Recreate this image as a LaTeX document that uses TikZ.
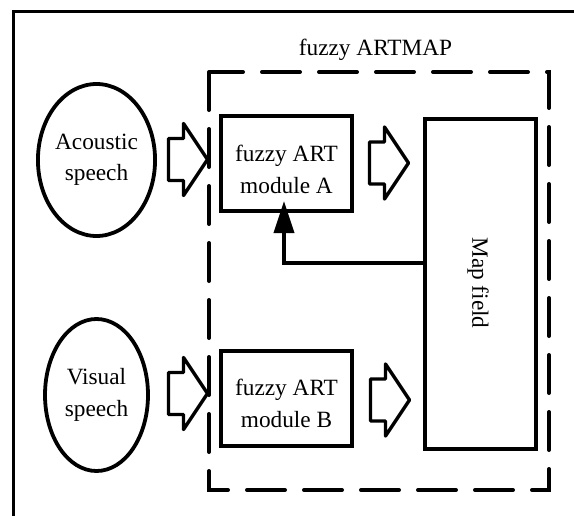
\documentclass[tikz,border=0pt]{standalone}
\usepackage{fontspec}
\setmainfont{Liberation Serif}
\usetikzlibrary{shapes.geometric,arrows.meta}
\tikzset{
  lbl/.style={font=\fontsize{23.3}{31.5}\selectfont, inner sep=0pt, align=center},
  ellbox/.style={draw, line width=3.8pt, ellipse, minimum width=103pt, minimum height=152pt, inner sep=0pt, lbl},
  modbox/.style={draw, line width=4pt, rectangle, minimum width=131pt, minimum height=95pt, inner sep=0pt},
  arrline/.style={draw, line width=3.4pt, line join=round},
  blockarr/.pic={\path[arrline] (0,-21) -- (15,-21) -- (15,-36) -- (39,0) -- (15,36) -- (15,21) -- (0,21) -- cycle;},
  fbline/.style={line width=3.8pt, -{Triangle[width=20pt,length=32pt]}},
  dashbox/.style={draw, line width=4pt, line cap=round, dash pattern=on 38pt off 19pt}
}
\begin{document}
\begin{tikzpicture}[x=1pt,y=-1pt]
\useasboundingbox (0,0) rectangle (574,515);
% outer frame (partly visible)
\draw[line width=3pt] (13.5,530) -- (13.5,11.5) -- (590,11.5);
% title
\node[lbl, anchor=base] (title) at (375.5,55) {fuzzy ARTMAP};
% dashed enclosure
\path[dashbox] (209,72) rectangle (549,490);
% inputs
\node[ellbox] (acou) at (96.5,160) {Acoustic\\speech};
\node[ellbox] (vis) at (96.5,395) {Visual\\speech};
% modules
\node[modbox] (modA) at (286.5,163.5) {};
\node[lbl] (modAtxt) at (286.5,169.5) {fuzzy ART\\module A};
\node[modbox] (modB) at (286.5,398.5) {};
\node[lbl] (modBtxt) at (286.5,403.5) {fuzzy ART\\module B};
% map field
\node[draw, line width=4pt, rectangle, minimum width=111pt, minimum height=330pt, inner sep=0pt] (map) at (480.5,284) {};
\node[lbl, rotate=-90] (maptxt) at (478,283) {Map field};
% block arrows
\pic at (168.5,159.5) {blockarr};
\pic at (168.5,393.5) {blockarr};
\pic at (369.5,163) {blockarr};
\pic at (370.5,400) {blockarr};
% feedback
\coordinate (fb) at (284,263);
\draw[fbline] (map.west |- fb) -- (fb) -- ([yshift=12pt]modA.south -| fb);
\end{tikzpicture}
\end{document}
